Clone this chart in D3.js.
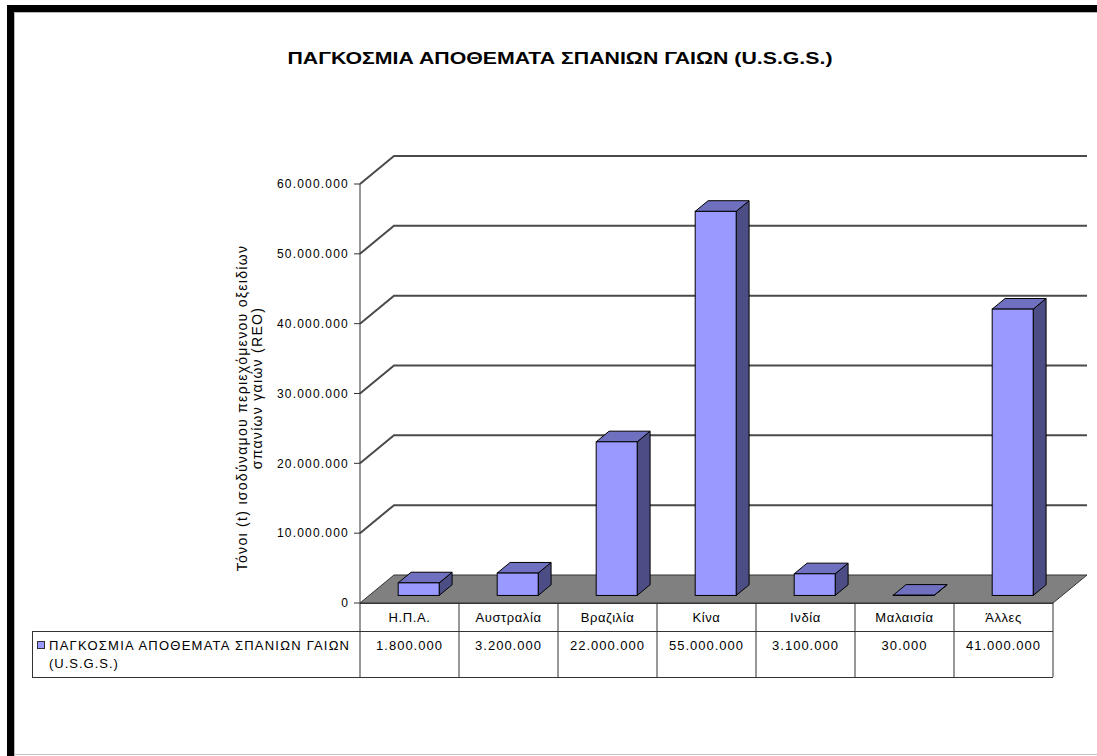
<!DOCTYPE html>
<html>
<head>
<meta charset="utf-8">
<script src="https://cdnjs.cloudflare.com/ajax/libs/d3/7.8.5/d3.min.js"></script>
<style>
  body { margin: 0; background: #fff; }
  text { font-family: "Liberation Sans", Arial, sans-serif; fill: #000; }
</style>
</head>
<body>
<div id="chart"></div>
<script>
// Data
var categories = ["Η.Π.Α.", "Αυστραλία", "Βραζιλία", "Κίνα", "Ινδία", "Μαλαισία", "Άλλες"];
var reserves = [1800000, 3200000, 22000000, 55000000, 3100000, 30000, 41000000];
var value_labels = ["1.800.000", "3.200.000", "22.000.000", "55.000.000", "3.100.000", "30.000", "41.000.000"];
var y_ticks = [0, 10000000, 20000000, 30000000, 40000000, 50000000, 60000000];
var tick_labels = ["0", "10.000.000", "20.000.000", "30.000.000", "40.000.000", "50.000.000", "60.000.000"];
var series_name = "ΠΑΓΚΟΣΜΙΑ ΑΠΟΘΕΜΑΤΑ ΣΠΑΝΙΩΝ ΓΑΙΩΝ";
var series_suffix = "(U.S.G.S.)";
var chart_title = "ΠΑΓΚΟΣΜΙΑ ΑΠΟΘΕΜΑΤΑ ΣΠΑΝΙΩΝ ΓΑΙΩΝ (U.S.G.S.)";
var y_title = ["Τόνοι (t) ισοδύναμου περιεχόμενου οξειδίων", "σπανίων γαιών (REO)"];

var svg_width = 1097;
var svg_height = 756;

// 3D depth of the floor and the bars
var depth = { dx: 34, dy: -28 };
var bar_start = 0.27;
var bar_depth = 0.38;

var svg = d3.select("#chart")
  .append("svg")
  .attr("width", svg_width)
  .attr("height", svg_height);

// Scales (front plane)
var x_band = d3.scaleBand()
  .domain(categories)
  .range([360, 1053]);

var y_linear = d3.scaleLinear()
  .domain([0, 60000000])
  .range([603, 184]);

// Frame
svg.append("rect").attr("x", 7).attr("y", 5).attr("width", svg_width - 7).attr("height", 7).attr("fill", "#000");
svg.append("rect").attr("x", 7).attr("y", 5).attr("width", 7).attr("height", svg_height - 5).attr("fill", "#000");
svg.append("line").attr("x1", 14).attr("x2", svg_width).attr("y1", 12.5).attr("y2", 12.5).attr("stroke", "#b8b8b8");
svg.append("line").attr("x1", 14.5).attr("x2", 14.5).attr("y1", 12).attr("y2", svg_height).attr("stroke", "#b8b8b8");
svg.append("line").attr("x1", 14).attr("x2", svg_width).attr("y1", 754.5).attr("y2", 754.5).attr("stroke", "#c4c4c4");

// Title
svg.append("text")
  .attr("x", 560)
  .attr("y", 64)
  .attr("text-anchor", "middle")
  .attr("font-size", "17px")
  .attr("font-weight", "bold")
  .attr("textLength", 545)
  .attr("lengthAdjust", "spacingAndGlyphs")
  .text(chart_title);

// Gridlines (side wall + back wall)
var x0 = x_band.range()[0];
var back_right = x_band.range()[1] + depth.dx;
svg.append("g")
  .selectAll("path")
  .data(y_ticks.slice(1))
  .enter()
  .append("path")
  .attr("d", d => `M${x0},${y_linear(d)} L${x0 + depth.dx},${y_linear(d) + depth.dy} L${back_right},${y_linear(d) + depth.dy}`)
  .attr("fill", "none")
  .attr("stroke", "#4a4a4a")
  .attr("stroke-width", 2);

// Floor
var y0 = y_linear(0);
svg.append("path")
  .attr("d", `M${x0},${y0} L${x0 + depth.dx},${y0 + depth.dy} L${back_right},${y0 + depth.dy} L${x_band.range()[1]},${y0} Z`)
  .attr("fill", "#808080")
  .attr("stroke", "#333");

// Bars
var bar_width = x_band.bandwidth() * 0.414;
var off_x = depth.dx * bar_start;
var off_y = depth.dy * bar_start;
var bd_x = depth.dx * bar_depth;
var bd_y = depth.dy * bar_depth;

var group_bars = svg.append("g")
  .selectAll("g")
  .data(categories.map((c, i) => ({ cat: c, value: reserves[i] })))
  .enter()
  .append("g");

// side face
group_bars.append("path")
  .attr("d", function(d) {
    var xr = x_band(d.cat) + x_band.bandwidth() / 2 - bar_width / 2 + off_x + bar_width;
    var yt = y_linear(d.value) + off_y;
    var yb = y0 + off_y;
    return `M${xr},${yt} L${xr + bd_x},${yt + bd_y} L${xr + bd_x},${yb + bd_y} L${xr},${yb} Z`;
  })
  .attr("fill", "#4d4d85")
  .attr("stroke", "#000")
  .attr("stroke-linejoin", "round");

// top face
group_bars.append("path")
  .attr("d", function(d) {
    var xl = x_band(d.cat) + x_band.bandwidth() / 2 - bar_width / 2 + off_x;
    var yt = y_linear(d.value) + off_y;
    return `M${xl},${yt} L${xl + bd_x},${yt + bd_y} L${xl + bar_width + bd_x},${yt + bd_y} L${xl + bar_width},${yt} Z`;
  })
  .attr("fill", "#7070c0")
  .attr("stroke", "#000")
  .attr("stroke-linejoin", "round");

// front face
group_bars.append("rect")
  .attr("x", d => x_band(d.cat) + x_band.bandwidth() / 2 - bar_width / 2 + off_x)
  .attr("y", d => y_linear(d.value) + off_y)
  .attr("width", bar_width)
  .attr("height", d => y0 - y_linear(d.value))
  .attr("fill", "#9999ff")
  .attr("stroke", "#000");

// Y axis line and ticks
svg.append("line")
  .attr("x1", x0).attr("x2", x0)
  .attr("y1", y_linear(60000000)).attr("y2", 677)
  .attr("stroke", "#333");

var group_ticks = svg.append("g")
  .selectAll("g")
  .data(y_ticks)
  .enter()
  .append("g")
  .attr("transform", d => `translate(${x0}, ${y_linear(d)})`);

group_ticks.append("line")
  .attr("x1", -6).attr("x2", 0)
  .attr("stroke", "#333");

group_ticks.append("text")
  .attr("x", -11)
  .attr("dy", "0.35em")
  .attr("text-anchor", "end")
  .attr("font-size", "12px")
  .attr("letter-spacing", "1.2px")
  .text((d, i) => tick_labels[i]);

// Y axis title
var group_ytitle = svg.append("g")
  .attr("transform", "translate(250, 408) rotate(-90)");

group_ytitle.append("text")
  .attr("y", -3)
  .attr("text-anchor", "middle")
  .attr("font-size", "14px")
  .attr("letter-spacing", "1.3px")
  .text(y_title[0]);

group_ytitle.append("text")
  .attr("x", 20)
  .attr("y", 12)
  .attr("text-anchor", "middle")
  .attr("font-size", "14px")
  .attr("letter-spacing", "1.3px")
  .text(y_title[1]);

// Data table
var table_left = 32;
var row_top = 603;
var row_mid = 631;
var row_bottom = 677;
var x_right = x_band.range()[1];
var table = svg.append("g").attr("stroke", "#333").attr("fill", "none");

table.append("line").attr("x1", x0).attr("x2", x_right).attr("y1", row_top + 0.5).attr("y2", row_top + 0.5);
table.append("line").attr("x1", table_left).attr("x2", x_right).attr("y1", row_mid + 0.5).attr("y2", row_mid + 0.5);
table.append("line").attr("x1", table_left).attr("x2", x_right).attr("y1", row_bottom + 0.5).attr("y2", row_bottom + 0.5);
table.append("line").attr("x1", table_left + 0.5).attr("x2", table_left + 0.5).attr("y1", row_mid).attr("y2", row_bottom);

table.selectAll(".col")
  .data(categories)
  .enter()
  .append("line")
  .attr("x1", d => x_band(d) + x_band.bandwidth())
  .attr("x2", d => x_band(d) + x_band.bandwidth())
  .attr("y1", row_top)
  .attr("y2", row_bottom);

// Category labels
svg.append("g")
  .selectAll("text")
  .data(categories)
  .enter()
  .append("text")
  .attr("x", d => x_band(d) + x_band.bandwidth() / 2)
  .attr("y", 622)
  .attr("text-anchor", "middle")
  .attr("font-size", "13px")
  .attr("letter-spacing", "0.6px")
  .text(d => d);

// Value labels
svg.append("g")
  .selectAll("text")
  .data(categories)
  .enter()
  .append("text")
  .attr("x", d => x_band(d) + x_band.bandwidth() / 2)
  .attr("y", 650)
  .attr("text-anchor", "middle")
  .attr("font-size", "13px")
  .attr("letter-spacing", "1px")
  .text((d, i) => value_labels[i]);

// Legend key inside the table
svg.append("rect")
  .attr("x", 37.5).attr("y", 641.5)
  .attr("width", 7).attr("height", 7)
  .attr("fill", "#9999ff")
  .attr("stroke", "#333");

svg.append("text")
  .attr("x", 49)
  .attr("y", 650)
  .attr("font-size", "13px")
  .attr("textLength", 300)
  .attr("lengthAdjust", "spacing")
  .text(series_name);

svg.append("text")
  .attr("x", 49)
  .attr("y", 668)
  .attr("font-size", "13px")
  .attr("letter-spacing", "1px")
  .text(series_suffix);
</script>
</body>
</html>
